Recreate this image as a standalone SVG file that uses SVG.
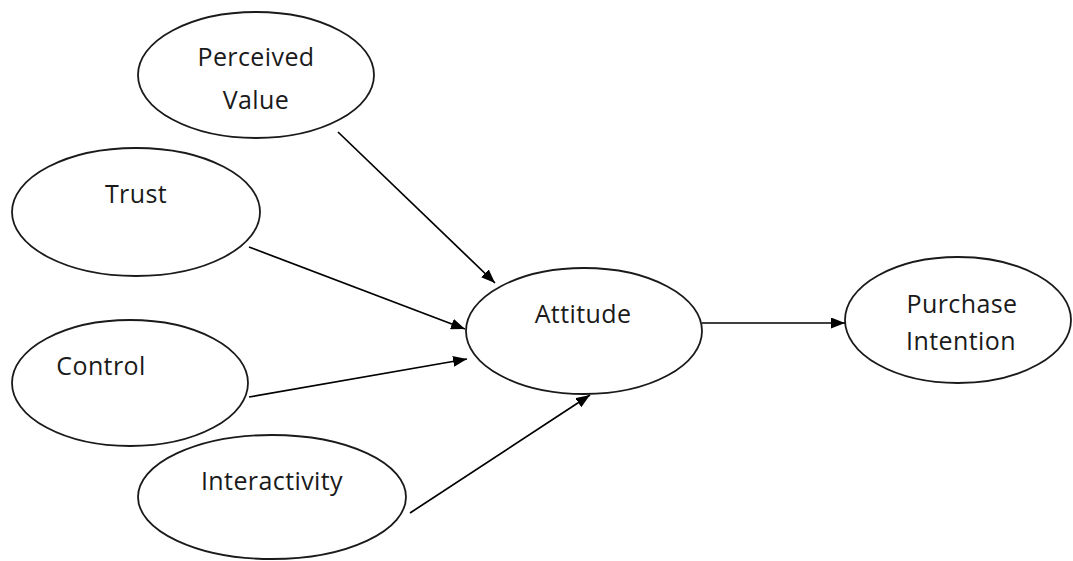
<svg xmlns="http://www.w3.org/2000/svg" width="1073" height="561" viewBox="0 0 1073 561">
  <style>
    .node ellipse { fill: #ffffff; stroke: #1a1a1a; stroke-width: 1.8; }
    .node text { font-family: "Open Sans", "Liberation Sans", sans-serif; font-size: 25px; letter-spacing: 0.4px; fill: #1a1a1a; text-anchor: middle; }
    .conn line { stroke: #000; stroke-width: 1.7; marker-end: url(#arrow); }
  </style>
  <defs>
    <marker id="arrow" viewBox="0 0 14 11" refX="14" refY="5.5" markerWidth="14" markerHeight="11" markerUnits="userSpaceOnUse" orient="auto">
      <path d="M0,0 L14,5.5 L0,11 z" fill="#000"/>
    </marker>
  </defs>
  <rect width="1073" height="561" fill="#ffffff"/>
  <g id="perceived-value" class="node">
    <ellipse cx="256" cy="75" rx="118" ry="63"/>
    <text x="256" y="66">Perceived</text>
    <text x="256" y="109">Value</text>
  </g>
  <g id="trust" class="node">
    <ellipse cx="136" cy="212" rx="124" ry="64"/>
    <text x="136" y="203">Trust</text>
  </g>
  <g id="control" class="node">
    <ellipse cx="130" cy="383" rx="118" ry="63"/>
    <text x="101" y="375">Control</text>
  </g>
  <g id="interactivity" class="node">
    <ellipse cx="272" cy="497" rx="134" ry="62"/>
    <text x="272" y="490">Interactivity</text>
  </g>
  <g id="attitude" class="node">
    <ellipse cx="584" cy="331" rx="118" ry="63"/>
    <text x="583" y="323">Attitude</text>
  </g>
  <g id="purchase-intention" class="node">
    <ellipse cx="958" cy="320" rx="113" ry="63"/>
    <text x="962" y="313">Purchase</text>
    <text x="961" y="350">Intention</text>
  </g>
  <g id="connectors" class="conn">
    <line x1="338" y1="132" x2="495" y2="283"/>
    <line x1="249" y1="247" x2="465" y2="329"/>
    <line x1="249" y1="397" x2="467" y2="359"/>
    <line x1="410" y1="513" x2="590" y2="395"/>
    <line x1="702" y1="323" x2="845" y2="323"/>
  </g>
</svg>
